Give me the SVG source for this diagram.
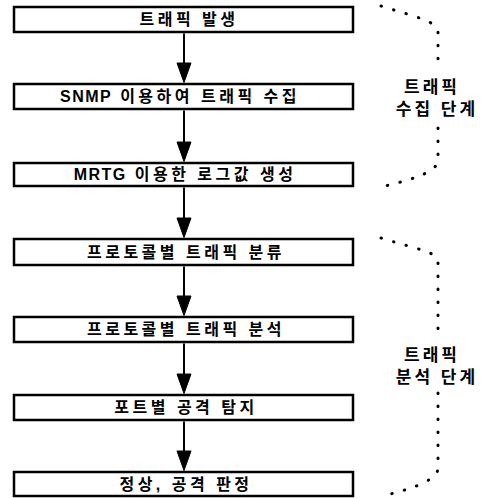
<svg xmlns="http://www.w3.org/2000/svg" width="486" height="498" viewBox="0 0 486 498">
<defs>
<style>
.box{fill:#fff;stroke:#000;stroke-width:2.5}
.t{font-family:"Liberation Sans","Noto Sans CJK KR",sans-serif;font-size:16px;font-weight:bold;fill:#000;text-anchor:middle;letter-spacing:3.5px}
.lat{letter-spacing:1.5px}
.lbl{font-family:"Liberation Sans","Noto Sans CJK KR",sans-serif;font-size:17px;font-weight:bold;fill:#000;text-anchor:middle;letter-spacing:3px}
.dot{stroke:#000;stroke-width:3;fill:none;stroke-linecap:round;stroke-dasharray:0.5 12.5}
</style>
</defs>
<rect width="486" height="498" fill="#fff"/>
<g id="n1"><rect class="box" x="14" y="7" width="339" height="25"/><text class="t" x="189" y="25">트래픽 발생</text></g>
<g id="n2"><rect class="box" x="14" y="84" width="339" height="25"/><text class="t" x="180" y="102"><tspan class="lat">SNMP</tspan> 이용하여 트래픽 수집</text></g>
<g id="n3"><rect class="box" x="14" y="163" width="339" height="23"/><text class="t" x="185" y="180"><tspan class="lat">MRTG</tspan> 이용한 로그값 생성</text></g>
<g id="n4"><rect class="box" x="14" y="239" width="339" height="26"/><text class="t" x="186" y="258">프로토콜별 트래픽 분류</text></g>
<g id="n5"><rect class="box" x="14" y="317" width="339" height="25"/><text class="t" x="186" y="335">프로토콜별 트래픽 분석</text></g>
<g id="n6"><rect class="box" x="14" y="395" width="339" height="25"/><text class="t" x="186" y="413">포트별 공격 탐지</text></g>
<g id="n7"><rect class="box" x="14" y="472" width="339" height="24"/><text class="t" x="186" y="490">정상, 공격 판정</text></g>
<g id="connectors" fill="#000" stroke="#000" stroke-width="2">
<path d="M184,33.5 V66" fill="none"/><path d="M177,63 L191,63 L184,82.5 Z" stroke-width="1"/>
<path d="M184,110.5 V145" fill="none"/><path d="M177,142 L191,142 L184,161.5 Z" stroke-width="1"/>
<path d="M184,187.5 V221" fill="none"/><path d="M177,218 L191,218 L184,237.5 Z" stroke-width="1"/>
<path d="M184,266.5 V299" fill="none"/><path d="M177,296 L191,296 L184,315.5 Z" stroke-width="1"/>
<path d="M184,343.5 V377" fill="none"/><path d="M177,374 L191,374 L184,393.5 Z" stroke-width="1"/>
<path d="M184,421.5 V454" fill="none"/><path d="M177,451 L191,451 L184,470.5 Z" stroke-width="1"/>
</g>
<g id="bracket1">
<path class="dot" d="M381,6 C420,18 438,22 438,32 V68"/>
<path class="dot" d="M438,128 V160 C438,170 420,178 381,187"/>
<text class="lbl" x="432" y="93">트래픽</text>
<text class="lbl" x="437" y="115">수집 단계</text>
</g>
<g id="bracket2">
<path class="dot" d="M381,238 C420,250 438,252 438,262 V340"/>
<path class="dot" d="M438,393 V468 C438,478 420,487 386,495"/>
<text class="lbl" x="432" y="361">트래픽</text>
<text class="lbl" x="437" y="383">분석 단계</text>
</g>
</svg>
